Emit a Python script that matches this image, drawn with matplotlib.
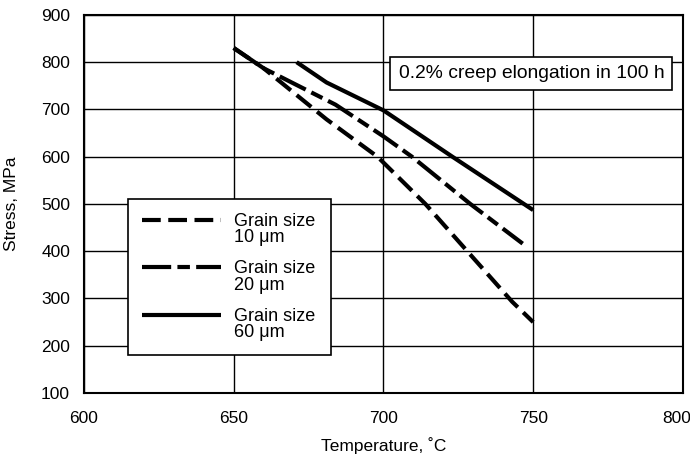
import matplotlib
matplotlib.use("Agg")
import numpy as np
import matplotlib.pyplot as plt
import matplotlib.transforms as mtransforms
from matplotlib.legend_handler import HandlerLine2D

plt.rcParams['font.family'] = ['Liberation Sans', 'DejaVu Sans']

# Data
t_10 = [650, 660, 681, 698, 714, 728, 743, 750]
s_10 = [830, 787, 679, 600, 500, 400, 293, 250]

t_20 = [650, 660, 684, 700, 709.5, 729, 746.5]
s_20 = [830, 787, 710, 643, 600, 500, 416]

t_60 = [671, 681, 700, 723, 750]
s_60 = [800, 757, 698, 600, 487]

labels = ["Grain size\n10 \u03bcm", "Grain size\n20 \u03bcm", "Grain size\n60 \u03bcm"]
x_ticks = [600, 650, 700, 750, 800]
y_ticks = [100, 200, 300, 400, 500, 600, 700, 800, 900]
note = "0.2% creep elongation in 100 h"


class UpperLineHandler(HandlerLine2D):
    """Place the legend line level with the first line of a two-line label."""
    def create_artists(self, legend, orig_handle, xdescent, ydescent,
                       width, height, fontsize, trans):
        artists = super().create_artists(legend, orig_handle, xdescent, ydescent,
                                         width, height, fontsize, trans)
        for a in artists:
            a.set_ydata(np.asarray(a.get_ydata(), dtype=float) + 0.54 * fontsize)
        return artists


fig = plt.figure(figsize=(6.9, 4.55), dpi=100)
ax = fig.add_axes([0.1217, 0.1363, 0.868, 0.831])
ax.set_xlim(600, 800)
ax.set_ylim(100, 900)
ax.set_xticks(x_ticks)
ax.set_yticks(y_ticks)
ax.grid(True, color='black', linewidth=1.0)
ax.set_axisbelow(True)
ax.tick_params(length=0, labelsize=12.5)
ax.tick_params(axis='y', pad=10)
ax.tick_params(axis='x', pad=13)
for sp in ax.spines.values():
    sp.set_linewidth(1.5)

# nudge the last x tick label slightly left so it stays inside the figure
last = ax.get_xticklabels()[-1]
last.set_transform(last.get_transform() + mtransforms.ScaledTranslation(-6 / 100, 0, fig.dpi_scale_trans))

lw = 3.0
l1, = ax.plot(t_10, s_10, color='black', lw=lw, dashes=(4.5, 1.8), dash_capstyle='butt', zorder=3)
l2, = ax.plot(t_20, s_20, color='black', lw=lw, dashes=(7, 1.5, 3, 1.5), dash_capstyle='butt', zorder=3)
l3, = ax.plot(t_60, s_60, color='black', lw=lw, solid_capstyle='butt', zorder=3)

leg = ax.legend([l1, l2, l3], labels, loc='lower left', bbox_to_anchor=(0.0735, 0.1005, 0.339, 0.407),
                mode='expand', fontsize=13, frameon=True, fancybox=False, edgecolor='black',
                framealpha=1, handlelength=4.4, handletextpad=0.7, labelspacing=0.8,
                borderpad=0.75, borderaxespad=0,
                handler_map={l1: UpperLineHandler(), l2: UpperLineHandler(), l3: UpperLineHandler()})
leg.get_frame().set_linewidth(1.2)
leg.set_zorder(4)
for t in leg.get_texts():
    t.set_linespacing(0.95)

ax.text(749.4, 776, note, ha='center', va='center', fontsize=13.9,
        bbox=dict(boxstyle='square,pad=0.42', facecolor='white', edgecolor='black', linewidth=1.2), zorder=4)

ax.set_xlabel("Temperature, \u02daC", fontsize=12.5)
ax.set_ylabel("Stress, MPa", fontsize=12.5)
ax.xaxis.set_label_coords(0.5, -0.116)
ax.yaxis.set_label_coords(-0.109, 0.5)

fig.savefig("out.png", dpi=100)
